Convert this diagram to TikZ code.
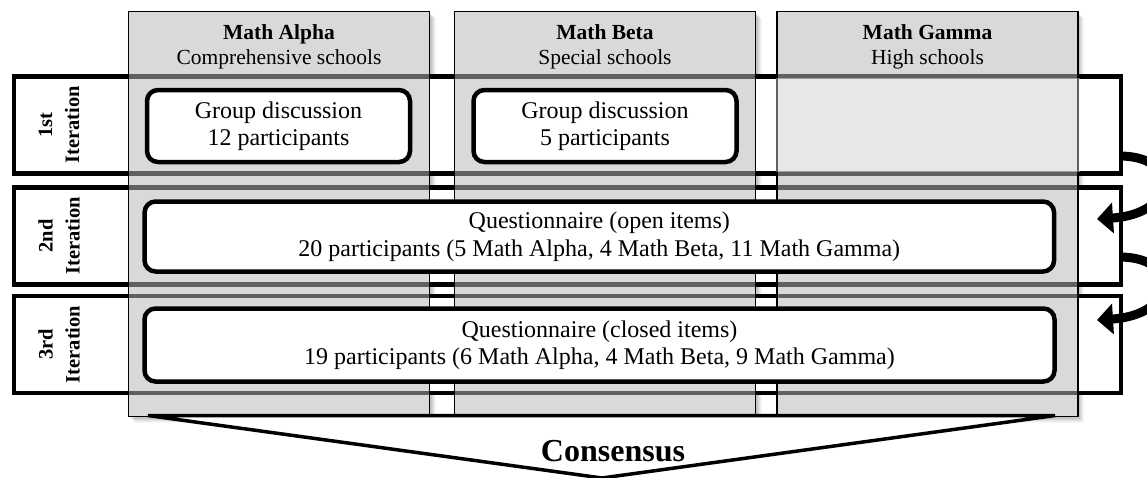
\documentclass[tikz,border=0pt]{standalone}
\usepackage{fontspec}
\setmainfont{Liberation Serif}
\usetikzlibrary{arrows.meta}
\definecolor{colgray}{gray}{0.72}
\begin{document}
\begin{tikzpicture}[x=1pt,y=-1pt,
  rowbox/.style={draw, line width=4.5pt, fill=white, inner sep=0pt, minimum width=1107pt, minimum height=97pt},
  colbox/.style={draw, line width=1.1pt, fill=colgray, fill opacity=0.525, inner sep=0pt, minimum width=301pt, minimum height=405pt},
  colbase/.style={fill=white, inner sep=0pt, minimum width=301pt, minimum height=405pt},
  head/.style={align=center, font=\fontsize{21.5}{25}\selectfont},
  inbox/.style={draw, line width=4.5pt, fill=white, rounded corners=11pt, inner sep=0pt, align=center, font=\fontsize{24}{27.5}\selectfont},
  itlabel/.style={rotate=90, align=center, font=\bfseries\fontsize{20.5}{27}\selectfont},
  bigarrow/.style={line width=9pt, -{Triangle[length=16pt,width=30pt]}},
  funnel/.style={draw, line width=3.5pt, fill=white, line join=miter},
]
\useasboundingbox (0,0) rectangle (1147,477);
\clip (0,0) rectangle (1147,477);

% column shadows
\foreach \cx in {279,605,927.5}{
  \foreach \d/\op in {6/0.03,5/0.04,4/0.05,3/0.06,2/0.07}{
    \fill[black, opacity=\op] (\cx-150.5+\d, 11.5+\d) rectangle (\cx+150.5+\d, 416.5+\d);
  }
}
% column bases
\node[colbase] (baseA) at (279,214) {};
\node[colbase] (baseB) at (605,214) {};
\node[colbase] (baseC) at (927.5,214) {};

% iteration rows
\node[rowbox] (rowA) at (567.5,125) {};
\node[rowbox] (rowB) at (567.5,236) {};
\node[rowbox] (rowC) at (567.5,344.5) {};

% columns
\node[colbox] (colA) at (279,214) {};
\node[colbox] (colB) at (605,214) {};
\node[colbox] (colC) at (927.5,214) {};

% light patch in Math Gamma, 1st iteration
\fill[white, fill opacity=0.38] (776,78.3) rectangle (1080,171.7);

% inner boxes
\node[inbox, minimum width=263pt, minimum height=72pt] (gA) at (278.5,126) {Group discussion\\12 participants};
\node[inbox, minimum width=263pt, minimum height=72pt] (gB) at (605,126) {Group discussion\\5 participants};
\node[inbox, minimum width=909.5pt, minimum height=70pt] (q2) at (599.3,236.5) {Questionnaire (open items)\\20 participants (5 Math Alpha, 4 Math Beta, 11 Math Gamma)};
\node[inbox, minimum width=910pt, minimum height=73pt] (q3) at (599.5,345) {Questionnaire (closed items)\\19 participants (6 Math Alpha, 4 Math Beta, 9 Math Gamma)};

% headers
\node[head] (hA) at (279,47) {\textbf{Math Alpha}\\Comprehensive schools};
\node[head] (hB) at (605,47) {\textbf{Math Beta}\\Special schools};
\node[head] (hC) at (927.5,47) {\textbf{Math Gamma}\\High schools};

% iteration labels
\node[itlabel] (lA) at (59,125) {1st\\Iteration};
\node[itlabel] (lB) at (59,236) {2nd\\Iteration};
\node[itlabel] (lC) at (59,344.5) {3rd\\Iteration};

% consensus funnel
\coordinate (fl) at (148,415.5);
\coordinate (fr) at (1055,415.5);
\coordinate (fa) at (602,478);
\path[funnel] (fl) -- (fr) -- (fa) -- cycle;
\node[font=\bfseries\fontsize{32}{38}\selectfont, anchor=base] (cons) at (613,461) {Consensus};

% arrows between iterations
\coordinate (a1s) at (1122,156);
\coordinate (a1e) at (1097,219);
\coordinate (a2s) at (1122,257);
\coordinate (a2e) at (1097,320);
\draw[bigarrow] (a1s) .. controls (1182,158) and (1176,214) .. (a1e);
\draw[bigarrow] (a2s) .. controls (1182,259) and (1176,315) .. (a2e);
\end{tikzpicture}
\end{document}
